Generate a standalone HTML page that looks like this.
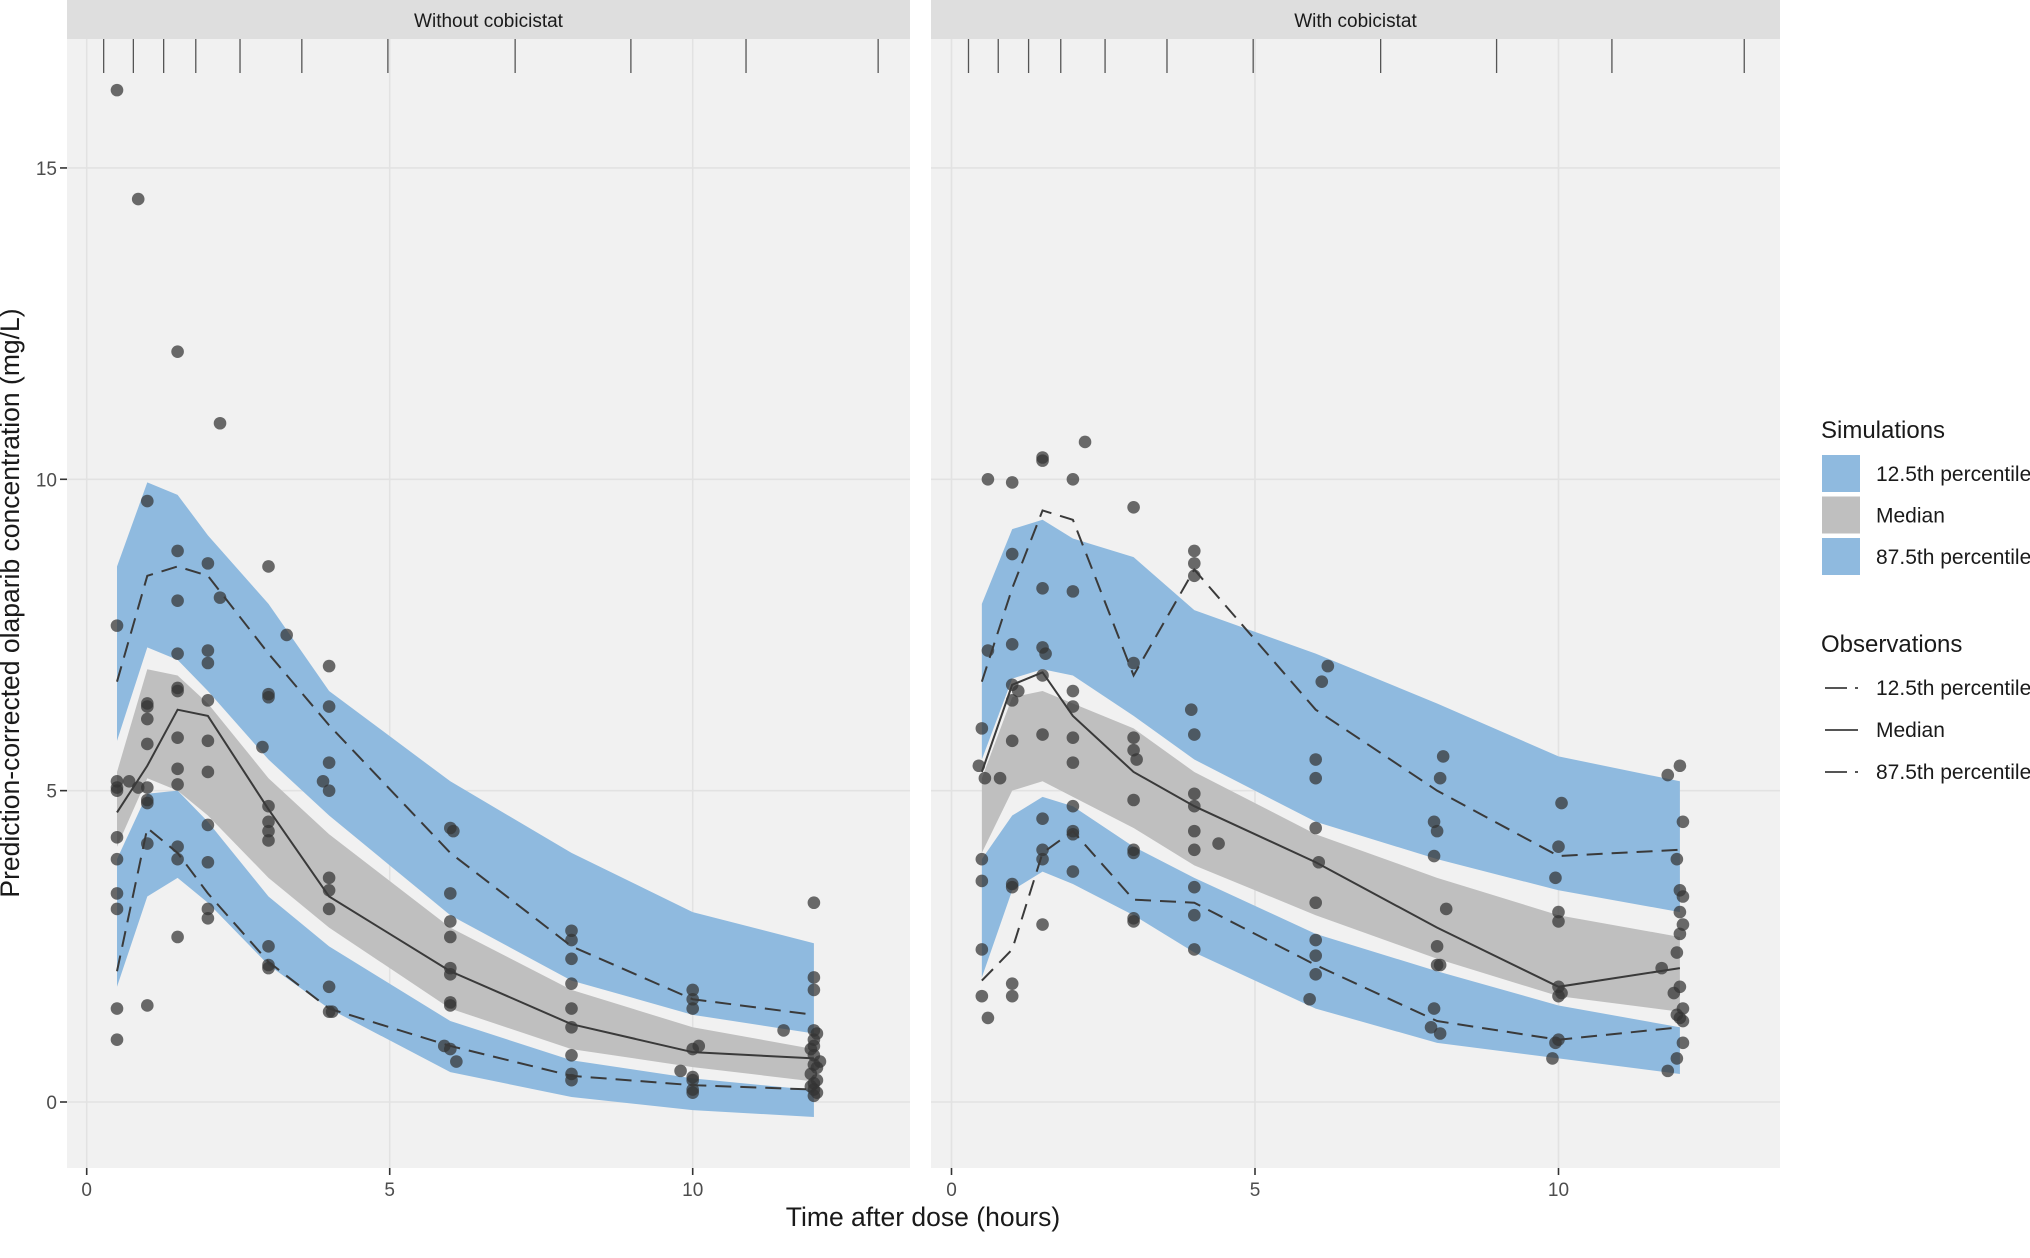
<!DOCTYPE html>
<html><head><meta charset="utf-8"><style>
body{margin:0;background:#fff;}
svg{display:block;font-family:"Liberation Sans",Arial,sans-serif;}
</style></head><body>
<svg id="chart" width="2030" height="1258" viewBox="0 0 2030 1258" xmlns="http://www.w3.org/2000/svg"></svg>
<script>
const times=[0.5,1,1.5,2,3,4,6,8,10,12];
const rugTicks=[0.28,0.77,1.27,1.8,2.53,3.55,4.97,7.07,8.98,10.88,13.06];
const xTicks=[0,5,10];
const yTicks=[0,5,10,15];
// Left panel (Without cobicistat)
const L_ubTop=[8.6,9.95,9.75,9.1,8.0,6.6,5.15,4.0,3.05,2.55];
const L_ubBot=[5.8,7.3,7.1,6.6,5.5,4.6,3.0,1.95,1.4,1.1];
const L_gTop=[5.3,6.95,6.85,6.4,5.2,4.3,2.8,1.8,1.2,0.85];
const L_gBot=[4.1,5.2,5.0,4.6,3.6,2.8,1.5,0.85,0.56,0.33];
const L_lbTop=[3.9,4.95,5.0,4.5,3.3,2.5,1.3,0.67,0.38,0.19];
const L_lbBot=[1.85,3.3,3.6,3.2,2.2,1.5,0.48,0.08,-0.13,-0.24];
const L_p875=[6.75,8.45,8.6,8.45,7.2,6.05,4.0,2.5,1.65,1.4];
const L_med=[4.65,5.4,6.3,6.2,4.7,3.3,2.1,1.25,0.8,0.7];
const L_p125=[2.1,4.4,4.0,3.35,2.25,1.5,0.9,0.42,0.27,0.2];
const L_obsT=[0.5,0.5,0.5,0.5,0.5,0.5,0.5,0.5,0.5,0.5,0.5,0.7,0.85,0.85,
1,1,1,1,1,1,1,1,1,1,1.5,1.5,1.5,1.5,1.5,1.5,1.5,1.5,1.5,1.5,1.5,1.5,
2,2,2,2,2,2,2,2,2,2,2.2,2.2,3,3,3,2.9,3,3,3,3,3,3,3,3.3,
4,4,4,3.9,4,4,4,4,4,4,4.05,6,6.05,6,6,6,6,6,6,6,5.9,6,6.1,
8,8,8,8,8,8,8,8,8,10,10,10,10.1,10,9.8,10,10,10,10,11.5,
12,12,12,12,12.05,12,12,11.95,12,12.1,12,12.05,11.95,12.05,12,11.95,12,12.05,12];
const L_obsC=[16.25,7.65,5.15,5.0,5.05,4.25,3.9,3.35,3.1,1.5,1.0,5.15,14.5,5.05,
9.65,6.4,6.35,6.15,5.75,5.05,4.85,4.8,4.15,1.55,12.05,8.85,8.05,7.2,6.65,6.6,5.85,5.35,5.1,4.1,3.9,2.65,
8.65,7.25,7.05,6.45,5.8,5.3,4.45,3.85,3.1,2.95,10.9,8.1,8.6,6.55,6.5,5.7,4.75,4.5,4.35,4.2,2.5,2.2,2.15,7.5,
7.0,6.35,5.45,5.15,5.0,3.6,3.4,3.1,1.85,1.45,1.45,4.4,4.35,3.35,2.9,2.65,2.15,2.05,1.6,1.55,0.9,0.85,0.65,
2.75,2.6,2.3,1.9,1.5,1.2,0.75,0.45,0.35,1.8,1.65,1.5,0.9,0.85,0.5,0.4,0.35,0.2,0.15,1.15,
3.2,2.0,1.8,1.15,1.1,1.0,0.9,0.85,0.75,0.65,0.6,0.55,0.45,0.35,0.3,0.25,0.2,0.15,0.1];
// Right panel (With cobicistat)
const R_ubTop=[8.0,9.2,9.35,9.05,8.75,7.9,7.2,6.4,5.55,5.15];
const R_ubBot=[5.5,6.8,6.95,6.85,6.2,5.5,4.5,3.9,3.4,3.05];
const R_gTop=[5.2,6.5,6.6,6.4,6.0,5.3,4.3,3.6,3.0,2.65];
const R_gBot=[4.0,5.0,5.15,4.9,4.4,3.8,3.0,2.3,1.7,1.45];
const R_lbTop=[3.9,4.6,4.9,4.75,4.1,3.6,2.7,2.1,1.55,1.2];
const R_lbBot=[2.0,3.4,3.7,3.5,3.0,2.4,1.5,0.95,0.7,0.45];
const R_p875=[6.75,8.25,9.5,9.35,6.85,8.55,6.3,5.0,3.95,4.05];
const R_med=[5.3,6.7,6.9,6.2,5.3,4.75,3.85,2.8,1.85,2.15];
const R_p125=[1.95,2.45,4.0,4.35,3.25,3.2,2.2,1.3,1.0,1.2];
const R_obsT=[0.45,0.5,0.5,0.5,0.5,0.5,0.6,0.6,0.55,0.6,0.8,
1,1,1,1,1,1,1,1,1,1,1.1,1.5,1.5,1.5,1.5,1.55,1.5,1.5,1.5,1.5,1.5,1.5,
2,2,2,2,2,2,2,2,2,2,2.2,3,3,3,3,3.05,3,3,3,3,3,
4,4,4,3.95,4,4,4,4,4,4,4,4,4.4,6.2,6.1,6,6,6,6.05,6,6,6,6,5.9,
8.1,8.05,7.95,8,7.95,8.15,8,8,8.05,7.95,7.9,8.05,10.05,10,9.95,10,10,10,10.05,10,10,9.95,9.9,
12,11.8,12.05,11.95,12,12.05,12,12.05,12,11.95,11.7,12,11.9,12.05,11.95,12,12.05,12.05,11.95,11.8];
const R_obsC=[5.4,6.0,3.9,3.55,2.45,1.7,10.0,7.25,5.2,1.35,5.2,
9.95,8.8,7.35,6.7,6.45,5.8,3.5,3.45,1.9,1.7,6.6,10.35,10.3,8.25,7.3,7.2,6.85,5.9,4.55,4.05,3.9,2.85,
10.0,8.2,6.6,6.35,5.85,5.45,4.75,4.35,4.3,3.7,10.6,9.55,7.05,5.85,5.65,5.5,4.85,4.05,4.0,2.95,2.9,
8.85,8.65,8.45,6.3,5.9,4.95,4.75,4.35,4.05,3.45,3.0,2.45,4.15,7.0,6.75,5.5,5.2,4.4,3.85,3.2,2.6,2.35,2.05,1.65,
5.55,5.2,4.5,4.35,3.95,3.1,2.5,2.2,2.2,1.5,1.2,1.1,4.8,4.1,3.6,3.05,2.9,1.85,1.75,1.7,1.0,0.95,0.7,
5.4,5.25,4.5,3.9,3.4,3.3,3.05,2.85,2.7,2.4,2.15,1.85,1.75,1.5,1.4,1.35,1.3,0.95,0.7,0.5];

const NS='http://www.w3.org/2000/svg';
const svg=document.getElementById('chart');
function mk(tag,attrs,parent){const e=document.createElementNS(NS,tag);for(const k in attrs)e.setAttribute(k,attrs[k]);(parent||svg).appendChild(e);return e;}
const yScale=c=>1102-62.27*c;
const panels=[
 {name:'without-cobicistat',title:'Without cobicistat',x0:67,x1:910,sx:t=>86.7+60.6*t,
  ubTop:L_ubTop,ubBot:L_ubBot,gTop:L_gTop,gBot:L_gBot,lbTop:L_lbTop,lbBot:L_lbBot,p875:L_p875,med:L_med,p125:L_p125,obsT:L_obsT,obsC:L_obsC},
 {name:'with-cobicistat',title:'With cobicistat',x0:931,x1:1780,sx:t=>951.5+60.7*t,
  ubTop:R_ubTop,ubBot:R_ubBot,gTop:R_gTop,gBot:R_gBot,lbTop:R_lbTop,lbBot:R_lbBot,p875:R_p875,med:R_med,p125:R_p125,obsT:R_obsT,obsC:R_obsC}];
panels.forEach(p=>{
 const g=mk('g',{});
 
 
 const bg=mk('rect',{x:p.x0,y:39,width:p.x1-p.x0,height:1129,fill:'#f1f1f1'},g);
 
 
 const st=mk('rect',{x:p.x0,y:0,width:p.x1-p.x0,height:39,fill:'#dedede'},g);
 
 
 const stt=mk('text',{x:(p.x0+p.x1)/2,y:27,'text-anchor':'middle','font-size':19,fill:'#1a1a1a'},g);
 stt.textContent=p.title;
 
 
 yTicks.forEach(v=>{const l=mk('line',{x1:p.x0,x2:p.x1,y1:yScale(v),y2:yScale(v),stroke:'#e2e2e2','stroke-width':1.6},g);
  
  });
 xTicks.forEach(v=>{const l=mk('line',{x1:p.sx(v),x2:p.sx(v),y1:39,y2:1168,stroke:'#e2e2e2','stroke-width':1.6},g);
  
  
  const tk=mk('line',{x1:p.sx(v),x2:p.sx(v),y1:1168,y2:1175,stroke:'#333','stroke-width':1.6},g);
  
  
  const tl=mk('text',{x:p.sx(v),y:1196,'text-anchor':'middle','font-size':19,fill:'#4d4d4d'},g);
  tl.textContent=v;
  
  });
 rugTicks.forEach(v=>{const l=mk('line',{x1:p.sx(v),x2:p.sx(v),y1:39,y2:73,stroke:'#555','stroke-width':1.3},g);
  
  });
 const band=(top,bot,fill,name)=>{
  const pts=times.map((t,i)=>p.sx(t)+','+yScale(top[i])).concat(times.map((t,i)=>p.sx(t)+','+yScale(bot[i])).reverse());
  const pg=mk('polygon',{points:pts.join(' '),fill:fill},g);
  
  };
 band(p.ubTop,p.ubBot,'#8fbadf','band-87-5th-percentile');
 band(p.gTop,p.gBot,'#bfbfbf','band-median');
 band(p.lbTop,p.lbBot,'#8fbadf','band-12-5th-percentile');
 p.obsT.forEach((t,i)=>{const c=mk('circle',{cx:p.sx(t),cy:yScale(p.obsC[i]),r:6.3,fill:'#333','fill-opacity':0.72},g);
  
  });
 const line=(vals,dash,name)=>{
  const pl=mk('polyline',{points:times.map((t,i)=>p.sx(t)+','+yScale(vals[i])).join(' '),fill:'none',stroke:'#3a3a3a','stroke-width':2,'stroke-dasharray':dash},g);
  
  };
 line(p.p875,'16 9','observed-87-5th-line');
 line(p.med,'none','observed-median-line');
 line(p.p125,'16 9','observed-12-5th-line');
});
yTicks.forEach(v=>{
 const tk=mk('line',{x1:60,x2:67,y1:yScale(v),y2:yScale(v),stroke:'#333','stroke-width':1.6});
 
 
 const t=mk('text',{x:57,y:yScale(v)+7,'text-anchor':'end','font-size':19,fill:'#4d4d4d'});
 t.textContent=v;
 
 
});
const yt=mk('text',{x:0,y:0,transform:'translate(19,603) rotate(-90)','text-anchor':'middle','font-size':26.5,fill:'#1a1a1a'});
yt.textContent='Prediction-corrected olaparib concentration (mg/L)';


const xt=mk('text',{x:923,y:1226,'text-anchor':'middle','font-size':26.5,fill:'#1a1a1a'});
xt.textContent='Time after dose (hours)';


// Legend
const lg=mk('g',{});


const lt1=mk('text',{x:1821,y:438,'font-size':24,fill:'#1a1a1a'},lg);lt1.textContent='Simulations';


const simItems=[['12.5th percentile','#8fbadf'],['Median','#bfbfbf'],['87.5th percentile','#8fbadf']];
simItems.forEach((it,i)=>{const y=455+i*41.5;
 const r=mk('rect',{x:1822,y:y,width:38,height:37,fill:it[1]},lg);
 
 
 const t=mk('text',{x:1876,y:y+26,'font-size':21,fill:'#1a1a1a'},lg);t.textContent=it[0];
 
 });
const lt2=mk('text',{x:1821,y:652,'font-size':24,fill:'#1a1a1a'},lg);lt2.textContent='Observations';


const obsItems=[['12.5th percentile',true],['Median',false],['87.5th percentile',true]];
obsItems.forEach((it,i)=>{const y=688+i*42;
 const l=mk('line',{x1:1825,x2:1847,y1:y,y2:y,stroke:'#555','stroke-width':2},lg);
 
 
 if(it[1]){const d=mk('line',{x1:1855,x2:1858,y1:y,y2:y,stroke:'#555','stroke-width':2},lg);
  
  }
 else{const d=mk('line',{x1:1847,x2:1858,y1:y,y2:y,stroke:'#555','stroke-width':2},lg);
  
  }
 const t=mk('text',{x:1876,y:y+7,'font-size':21,fill:'#1a1a1a'},lg);t.textContent=it[0];
 
 });
</script>
</body></html>
